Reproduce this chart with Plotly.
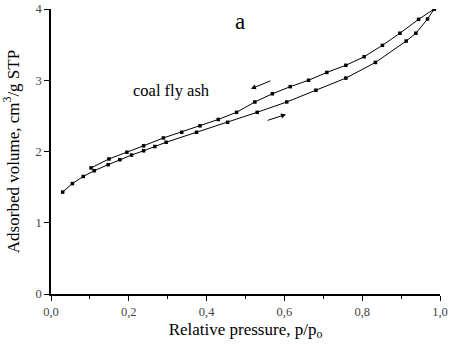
import plotly.graph_objects as go

ads_p = [0.030, 0.055, 0.083, 0.111, 0.147, 0.177, 0.207, 0.238, 0.267, 0.296, 0.374,
         0.454, 0.530, 0.606, 0.681, 0.758, 0.834, 0.913, 0.938, 0.968, 0.985]
ads_v = [1.43, 1.55, 1.65, 1.73, 1.815, 1.885, 1.95, 2.01, 2.07, 2.13, 2.27,
         2.41, 2.55, 2.695, 2.86, 3.03, 3.25, 3.55, 3.66, 3.86, 4.00]
des_p = [0.985, 0.945, 0.897, 0.852, 0.805, 0.758, 0.709, 0.662, 0.615, 0.569, 0.524,
         0.477, 0.430, 0.383, 0.336, 0.289, 0.238, 0.195, 0.149, 0.103]
des_v = [4.00, 3.855, 3.66, 3.49, 3.33, 3.21, 3.11, 3.00, 2.91, 2.81, 2.695,
         2.55, 2.45, 2.36, 2.27, 2.19, 2.08, 1.99, 1.895, 1.77]

x_ticks = [0.0, 0.2, 0.4, 0.6, 0.8, 1.0]
x_labels = ["0,0", "0,2", "0,4", "0,6", "0,8", "1,0"]
y_ticks = [0, 1, 2, 3, 4]
y_labels = ["0", "1", "2", "3", "4"]

FONT = "Liberation Serif, Times New Roman, serif"

fig = go.Figure()
for xs, ys in [(ads_p, ads_v), (des_p, des_v)]:
    fig.add_trace(go.Scatter(x=xs, y=ys, mode="lines+markers",
                             line=dict(color="black", width=1),
                             marker=dict(symbol="square", size=3.5, color="black"),
                             showlegend=False, hoverinfo="skip"))

fig.add_annotation(x=0.486, y=3.82, text="a", showarrow=False,
                   font=dict(family=FONT, size=23, color="black"))
fig.add_annotation(x=0.311, y=2.86, text="coal fly ash", showarrow=False,
                   font=dict(family=FONT, size=16.5, color="black"))
fig.add_annotation(x=0.514, y=2.88, ax=0.568, ay=3.0, axref="x", ayref="y",
                   text="", showarrow=True, arrowhead=2, arrowsize=1, arrowwidth=1,
                   arrowcolor="black")
fig.add_annotation(x=0.604, y=2.52, ax=0.553, ay=2.43, axref="x", ayref="y",
                   text="", showarrow=True, arrowhead=2, arrowsize=1, arrowwidth=1,
                   arrowcolor="black")

fig.update_layout(
    template="none",
    width=458, height=345,
    margin=dict(l=51, r=18, t=9, b=51),
    paper_bgcolor="white", plot_bgcolor="white",
    font=dict(family=FONT, color="black"),
)
fig.update_xaxes(range=[0, 1], tickvals=x_ticks, ticktext=x_labels, automargin=False,
                 showgrid=False, zeroline=False, showline=True, linecolor="black",
                 linewidth=1.5, ticks="outside", ticklen=5, tickcolor="black",
                 tickfont=dict(family=FONT, size=12.5, color="#444"),
                 minor=dict(tickvals=[0.1, 0.3, 0.5, 0.7, 0.9], ticks="outside",
                            ticklen=3, tickcolor="black"),
                 title=dict(text="Relative pressure, p/p<sub>o</sub>",
                            font=dict(family=FONT, size=17, color="black"), standoff=5))
fig.update_yaxes(range=[0, 4], tickvals=y_ticks, ticktext=y_labels, automargin=False,
                 showgrid=False, zeroline=False, showline=True, linecolor="black",
                 linewidth=1.5, ticks="outside", ticklen=5, tickcolor="black",
                 tickfont=dict(family=FONT, size=12.5, color="#444"),
                 title=dict(text="Adsorbed volume, cm<sup>3</sup>/g STP",
                            font=dict(family=FONT, size=17, color="black"), standoff=12))

fig.write_html("out.html", config={"displayModeBar": False},
               post_script="document.body.style.margin='0';")
